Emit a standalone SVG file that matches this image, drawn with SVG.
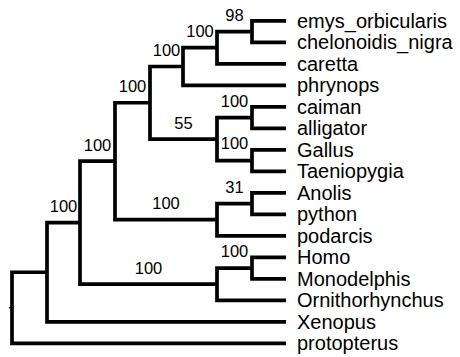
<svg xmlns="http://www.w3.org/2000/svg" width="460" height="357" viewBox="0 0 460 357">
<style>
.br{fill:none;stroke:#000;stroke-width:3.7;stroke-linejoin:miter;stroke-linecap:butt}
.stub{fill:none;stroke:#000;stroke-width:1.2}
.tip{font-family:"Liberation Sans",Arial,sans-serif;font-size:20px;fill:#000}
.bs{font-family:"Liberation Sans",Arial,sans-serif;font-size:16.5px;fill:#000;text-anchor:middle}
</style>
<rect width="460" height="357" fill="#fff"/>
<g id="connectors">
<path class="br" d="M286,20.8 H252 V42.3 H286"/>
<path class="br" d="M252,31.55 H217 V63.8 H286"/>
<path class="br" d="M217,47.68 H183 V85.3 H286"/>
<path class="br" d="M286,106.8 H252 V128.3 H286"/>
<path class="br" d="M286,149.8 H252 V171.3 H286"/>
<path class="br" d="M252,117.55 H217 V160.55 H252"/>
<path class="br" d="M183,66.49 H150 V139.05 H217"/>
<path class="br" d="M286,192.8 H252 V214.3 H286"/>
<path class="br" d="M252,203.55 H217 V235.8 H286"/>
<path class="br" d="M150,102.77 H115 V219.68 H217"/>
<path class="br" d="M286,257.3 H252 V278.8 H286"/>
<path class="br" d="M252,268.05 H217 V300.3 H286"/>
<path class="br" d="M115,161.22 H80 V284.18 H217"/>
<path class="br" d="M80,222.7 H47 V321.8 H286"/>
<path class="br" d="M47,272.25 H12 V343.3 H286"/>
<path class="stub" d="M9,307.8 H12"/>
</g>
<g id="tip-emys_orbicularis"><text class="tip" x="297" y="27.6">emys_orbicularis</text></g>
<g id="tip-chelonoidis_nigra"><text class="tip" x="297" y="49.1">chelonoidis_nigra</text></g>
<g id="tip-caretta"><text class="tip" x="297" y="70.6">caretta</text></g>
<g id="tip-phrynops"><text class="tip" x="297" y="92.1">phrynops</text></g>
<g id="tip-caiman"><text class="tip" x="297" y="113.6">caiman</text></g>
<g id="tip-alligator"><text class="tip" x="297" y="135.1">alligator</text></g>
<g id="tip-Gallus"><text class="tip" x="297" y="156.6">Gallus</text></g>
<g id="tip-Taeniopygia"><text class="tip" x="297" y="178.1">Taeniopygia</text></g>
<g id="tip-Anolis"><text class="tip" x="297" y="199.6">Anolis</text></g>
<g id="tip-python"><text class="tip" x="297" y="221.1">python</text></g>
<g id="tip-podarcis"><text class="tip" x="297" y="242.6">podarcis</text></g>
<g id="tip-Homo"><text class="tip" x="297" y="264.3">Homo</text></g>
<g id="tip-Monodelphis"><text class="tip" x="297" y="285.8">Monodelphis</text></g>
<g id="tip-Ornithorhynchus"><text class="tip" x="297" y="307.3">Ornithorhynchus</text></g>
<g id="tip-Xenopus"><text class="tip" x="297" y="328.8">Xenopus</text></g>
<g id="tip-protopterus"><text class="tip" x="297" y="350.3">protopterus</text></g>
<g id="node-A"><text class="bs" x="234.5" y="21">98</text></g>
<g id="node-B"><text class="bs" x="200" y="37">100</text></g>
<g id="node-C"><text class="bs" x="166.5" y="56">100</text></g>
<g id="node-D"><text class="bs" x="234.5" y="107">100</text></g>
<g id="node-E"><text class="bs" x="234.5" y="149">100</text></g>
<g id="node-F"><text class="bs" x="183.5" y="129">55</text></g>
<g id="node-G"><text class="bs" x="132.5" y="92">100</text></g>
<g id="node-H"><text class="bs" x="234.5" y="192.5">31</text></g>
<g id="node-I"><text class="bs" x="166" y="209">100</text></g>
<g id="node-J"><text class="bs" x="97.5" y="151">100</text></g>
<g id="node-K"><text class="bs" x="234.5" y="257">100</text></g>
<g id="node-M"><text class="bs" x="148.5" y="273.5">100</text></g>
<g id="node-N"><text class="bs" x="63.5" y="212">100</text></g>
</svg>
